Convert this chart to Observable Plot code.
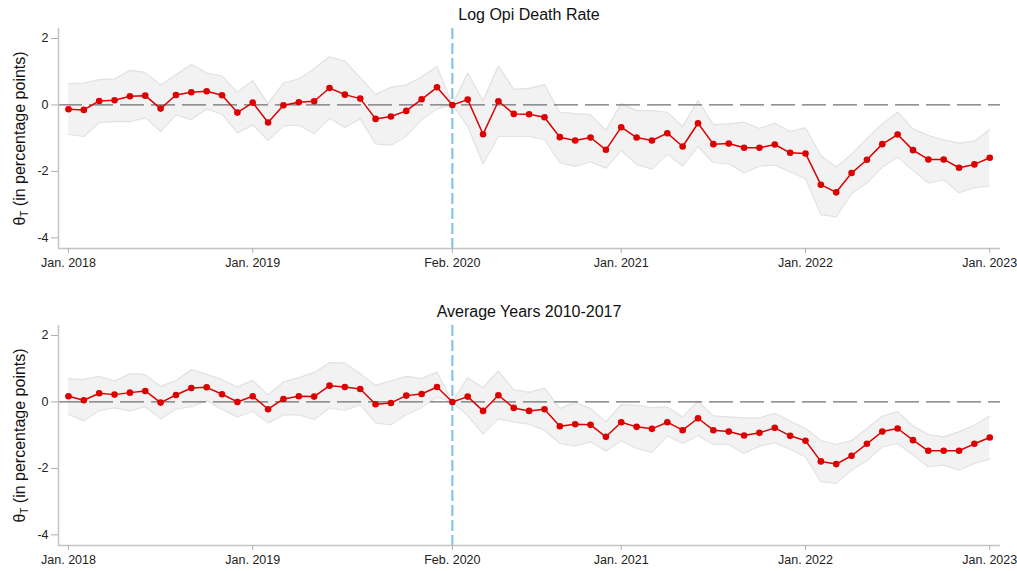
<!DOCTYPE html>
<html><head><meta charset="utf-8">
<script src="https://cdn.jsdelivr.net/npm/d3@7"></script>
<script src="https://cdn.jsdelivr.net/npm/@observablehq/plot@0.6"></script>
<style>
body{margin:0;background:#fff;font-family:"Liberation Sans",Arial,sans-serif;}
.title{width:942px;margin-left:58px;text-align:center;font-size:16px;color:#111;height:28px;line-height:30px;}
svg{display:block;}
</style></head><body><div id="c"></div>
<script>
// Monthly event-time index: Jan. 2018 (0) ... Jan. 2023 (60)
const tickIdx = [0, 12, 25, 36, 48, 60];
const tickLabels = ["Jan. 2018", "Jan. 2019", "Feb. 2020", "Jan. 2021", "Jan. 2022", "Jan. 2023"];
const eventIdx = [25];
const yTicks = [-4, -2, 0, 2];
const yLabel = "θT (in percentage points)";
const titles = ["Log Opi Death Rate", "Average Years 2010-2017"];

// Panel 1: Log Opi Death Rate
const topEst = [-0.13,-0.15,0.12,0.14,0.26,0.28,-0.11,0.30,0.38,0.41, 0.29,-0.23,0.07,-0.53,-0.01,0.08,0.11,0.51,0.31,0.19,
 -0.42,-0.35,-0.18,0.17,0.53,0.0,0.16,-0.88,0.11,-0.27, -0.28,-0.37,-0.97,-1.07,-0.98,-1.35,-0.67,-0.98,-1.07,-0.85,
 -1.25,-0.55,-1.18,-1.16,-1.29,-1.29,-1.19,-1.44,-1.46,-2.40, -2.63,-2.05,-1.65,-1.18,-0.89,-1.36,-1.64,-1.64,-1.89,-1.79,-1.59];
const topHi = [0.64,0.66,0.76,0.78,1.04,0.98,0.59,0.91,1.22,0.96, 0.87,0.38,0.73,0.04,0.66,0.78,1.09,1.45,1.32,0.82,
 0.31,0.53,0.60,0.84,1.16,0,0.96,0.13,1.17,0.47, 0.50,0.61,-0.22,-0.26,-0.29,-0.77,0.04,-0.17,-0.17,-0.22,
 -0.65,0.13,-0.59,-0.57,-0.52,-0.71,-0.55,-0.80,-0.69,-1.52, -1.87,-1.49,-1.02,-0.57,-0.22,-0.72,-0.92,-1.05,-1.15,-1.09,-0.74];
const topLo = [-0.89,-0.95,-0.53,-0.50,-0.50,-0.39,-0.80,-0.30,-0.44,-0.12, -0.28,-0.84,-0.60,-1.07,-0.63,-0.61,-0.86,-0.40,-0.68,-0.42,
 -1.17,-1.21,-0.94,-0.44,-0.12,0,-0.64,-1.77,-0.95,-0.95, -0.95,-1.04,-1.74,-1.85,-1.71,-1.90,-1.37,-1.79,-1.93,-1.48,
 -1.84,-1.25,-1.74,-1.77,-2.05,-1.84,-1.81,-2.02,-2.22,-3.30, -3.37,-2.67,-2.35,-1.87,-1.57,-1.97,-2.35,-2.25,-2.64,-2.49,-2.44];

// Panel 2: Average Years 2010-2017
const botEst = [0.17,0.05,0.26,0.22,0.28,0.33,-0.02,0.21,0.42,0.44, 0.23,0.0,0.17,-0.22,0.09,0.17,0.16,0.49,0.45,0.39,
 -0.07,-0.03,0.19,0.24,0.45,0,0.16,-0.27,0.20,-0.18, -0.27,-0.22,-0.73,-0.67,-0.69,-1.05,-0.61,-0.75,-0.81,-0.61,
 -0.85,-0.49,-0.85,-0.89,-1.01,-0.93,-0.78,-1.02,-1.17,-1.79, -1.87,-1.62,-1.26,-0.89,-0.80,-1.15,-1.47,-1.47,-1.47,-1.26,-1.07];
const botHi = [0.70,0.67,0.77,0.63,0.85,0.82,0.47,0.64,0.97,0.83, 0.67,0.45,0.65,0.21,0.60,0.73,0.88,1.18,1.17,0.85,
 0.50,0.63,0.77,0.70,0.90,0,0.73,0.43,0.93,0.37, 0.29,0.42,-0.20,-0.01,-0.20,-0.60,-0.08,-0.10,-0.17,-0.15,
 -0.45,0.02,-0.42,-0.45,-0.48,-0.48,-0.34,-0.58,-0.80,-1.16, -1.28,-1.17,-0.80,-0.43,-0.29,-0.72,-0.98,-1.05,-0.90,-0.70,-0.42];
const botLo = [-0.37,-0.57,-0.26,-0.18,-0.27,-0.14,-0.51,-0.22,-0.14,0.04, -0.23,-0.45,-0.28,-0.63,-0.39,-0.39,-0.53,-0.19,-0.25,-0.09,
 -0.63,-0.69,-0.38,-0.17,0.15,0,-0.41,-0.96,-0.51,-0.60, -0.67,-0.85,-1.25,-1.32,-1.20,-1.48,-1.17,-1.40,-1.52,-1.02,
 -1.25,-1.02,-1.28,-1.28,-1.55,-1.33,-1.23,-1.43,-1.65,-2.40, -2.45,-2.05,-1.77,-1.35,-1.25,-1.60,-1.95,-1.90,-2.05,-1.85,-1.72];

const xDomain = [-0.65, 60.7];
const yDomain = [-4.32, 2.3];

function panel(title, est, lo, hi, marginBottom) {
  const data = est.map((v, i) => ({i, v, lo: lo[i], hi: hi[i]}));
  const svg = Plot.plot({
    width: 1017, height: 220 + marginBottom,
    marginLeft: 58, marginRight: 17, marginTop: 0, marginBottom,
    style: {fontFamily: '"Liberation Sans", Arial, sans-serif', background: "#fff", overflow: "hidden"},
    x: {domain: xDomain, axis: null},
    y: {domain: yDomain, axis: null},
    marks: [
      Plot.areaY(data, {x: "i", y1: "lo", y2: "hi", fill: "#f2f2f2"}),
      Plot.line(data, {x: "i", y: "lo", stroke: "#e2e2e2", strokeWidth: 1.2}),
      Plot.line(data, {x: "i", y: "hi", stroke: "#e2e2e2", strokeWidth: 1.2}),
      Plot.ruleY([0], {stroke: "#707070", strokeWidth: 1.3, strokeDasharray: "24,7"}),
      Plot.ruleX(eventIdx, {stroke: "#86c3ea", strokeWidth: 2.2, strokeDasharray: "11,4"}),
      Plot.line(data, {x: "i", y: "v", stroke: "#dd0000", strokeWidth: 1.5}),
      Plot.dot(data, {x: "i", y: "v", r: 3.3, fill: "#dd0000"}),
      Plot.ruleX([xDomain[0]], {stroke: "#c4c4c4", strokeWidth: 1.5}),
      Plot.ruleY([yDomain[0]], {stroke: "#c4c4c4", strokeWidth: 1.5}),
      Plot.axisX({ticks: tickIdx, tickFormat: d => tickLabels[tickIdx.indexOf(d)], tickSize: 5, tickPadding: 5,
        stroke: "#b0b0b0", fill: "#222", fontSize: 12.5, label: null}),
      Plot.axisY({ticks: yTicks, tickFormat: d => String(d), tickSize: 7, tickPadding: 3,
        stroke: "#b0b0b0", fill: "#222", fontSize: 12.5, label: null}),
      Plot.text([yLabel], {frameAnchor: "left", rotate: -90, dx: -39, fontSize: 16, fill: "#111", textAnchor: "middle"})
    ]
  });
  // subscript T in the y label
  svg.querySelectorAll("text").forEach(t => {
    if (t.textContent === yLabel) {
      const ns = "http://www.w3.org/2000/svg";
      t.textContent = "";
      const a = document.createElementNS(ns, "tspan"); a.textContent = "θ";
      const b = document.createElementNS(ns, "tspan"); b.textContent = "T"; b.setAttribute("font-size", "10"); b.setAttribute("dy", "3");
      const c = document.createElementNS(ns, "tspan"); c.textContent = " (in percentage points)"; c.setAttribute("dy", "-3");
      t.append(a, b, c);
    }
  });
  const div = document.createElement("div");
  div.className = "title"; div.textContent = title;
  const wrap = document.createElement("div");
  wrap.append(div, svg);
  return wrap;
}

const c = document.getElementById("c");
c.append(panel(titles[0], topEst, topLo, topHi, 49));
c.append(panel(titles[1], botEst, botLo, botHi, 26));
</script></body></html>
